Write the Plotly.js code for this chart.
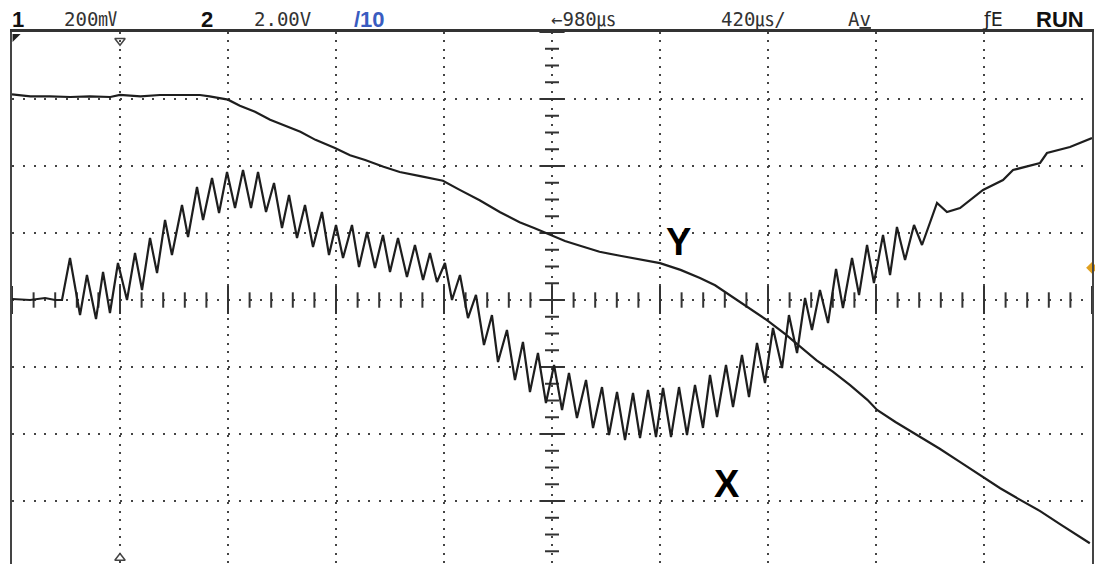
<!DOCTYPE html>
<html>
<head>
<meta charset="utf-8">
<script src="https://cdn.plot.ly/plotly-3.0.1.min.js"></script>
<style>html,body{margin:0;padding:0;background:#fff;}#chart{width:1095px;height:564px;}</style>
</head>
<body>
<div id="chart"></div>
<script>
// Time axis in screen divisions (420 µs/div), amplitude in vertical divisions
const yTraceT = [0.00,0.17,0.35,0.54,0.72,0.91,1.00,1.19,1.37,1.56,1.74,1.83,1.93,2.00,2.11,2.25,2.39,2.53,2.67,2.81,2.99,3.13,3.27,3.44,3.59,3.78,3.99,4.15,4.33,4.52,4.70,4.84,4.99,5.12,5.26,5.44,5.63,5.81,6.00,6.19,6.37,6.51,6.68,6.83,6.99,7.16,7.30,7.45,7.60,7.76,7.92,8.01,8.18,8.38,8.59,8.78,8.99,9.15,9.31,9.52,9.70,9.84,9.98];
const yTraceV = [3.07,3.04,3.04,3.03,3.04,3.03,3.06,3.04,3.06,3.06,3.06,3.04,3.01,2.99,2.90,2.81,2.69,2.60,2.51,2.39,2.27,2.16,2.09,1.99,1.91,1.85,1.78,1.64,1.49,1.31,1.16,1.07,0.97,0.88,0.81,0.72,0.66,0.61,0.55,0.45,0.33,0.22,0.04,-0.12,-0.30,-0.51,-0.70,-0.90,-1.07,-1.27,-1.49,-1.64,-1.82,-2.01,-2.22,-2.42,-2.64,-2.81,-2.96,-3.15,-3.34,-3.49,-3.63];

const xTraceT = [0,0.167,0.306,0.398,0.463,0.537,0.630,0.694,0.778,0.843,0.907,0.981,1.065,1.139,1.204,1.278,1.343,1.417,1.481,1.574,1.630,1.713,1.769,1.852,1.917,1.991,2.065,2.139,2.213,2.278,2.352,2.426,2.500,2.565,2.639,2.713,2.787,2.870,2.935,3.000,3.065,3.148,3.213,3.287,3.361,3.435,3.500,3.574,3.657,3.731,3.806,3.870,3.935,4.009,4.074,4.148,4.222,4.296,4.370,4.444,4.500,4.583,4.657,4.731,4.796,4.870,4.944,5.019,5.093,5.157,5.231,5.315,5.380,5.463,5.528,5.602,5.676,5.750,5.815,5.889,5.963,6.028,6.102,6.176,6.250,6.324,6.398,6.463,6.528,6.611,6.676,6.759,6.824,6.898,6.972,7.046,7.130,7.194,7.269,7.343,7.407,7.481,7.556,7.630,7.694,7.778,7.843,7.917,7.981,8.065,8.130,8.194,8.269,8.352,8.426,8.500,8.565,8.657,8.778,8.991,9.176,9.269,9.519,9.583,9.796,10.0];
const xTraceV = [0.015,0,0.03,0,0,0.627,-0.224,0.373,-0.284,0.418,-0.194,0.552,0,0.701,0.149,0.925,0.403,1.194,0.672,1.418,0.940,1.687,1.194,1.821,1.299,1.910,1.373,1.940,1.373,1.910,1.313,1.746,1.075,1.567,0.925,1.418,0.791,1.313,0.672,1.119,0.627,1.119,0.493,1.015,0.478,0.970,0.418,0.925,0.343,0.821,0.299,0.701,0.269,0.552,0,0.373,-0.269,0.075,-0.672,-0.224,-0.925,-0.448,-1.194,-0.627,-1.373,-0.791,-1.537,-0.970,-1.642,-1.090,-1.761,-1.194,-1.910,-1.299,-2.015,-1.373,-2.090,-1.388,-2.060,-1.343,-2.045,-1.313,-2.045,-1.299,-2.015,-1.269,-1.910,-1.119,-1.746,-0.970,-1.597,-0.821,-1.448,-0.642,-1.239,-0.418,-1.015,-0.224,-0.791,0.030,-0.448,0.149,-0.343,0.463,-0.119,0.627,0.075,0.821,0.254,0.970,0.373,1.090,0.597,1.119,0.821,1.164,1.448,1.313,1.373,1.642,1.791,1.940,2.045,2.194,2.284,2.418];

const headerTexts = ["<b>1</b>","200㎷","<b>2</b>","2.00V","<b>/10</b>","←980㎲","420㎲/","A<span style='text-decoration:underline'>v</span>","ƒE","<b>RUN</b>"];
const traceLabels = ["Y","X"];

// graticule decoration built from division spacing
const hMinor=[], hMajor=[], vMinor=[], vMajor=[];
for (let i=0;i<=50;i++){ const x=i/5; if(i%5===0) hMajor.push(x); else hMinor.push(x); }
for (let i=-16;i<=16;i++){ const y=i/4; if(i%4===0) vMajor.push(y); else vMinor.push(y); }

const ink = '#1e1e1e';
const traces = [
  {x:hMinor, y:hMinor.map(()=>0), mode:'markers', marker:{symbol:'line-ns', size:11, color:'#333', line:{width:2,color:'#333'}}, hoverinfo:'skip'},
  {x:hMajor, y:hMajor.map(()=>0), mode:'markers', marker:{symbol:'line-ns', size:20, color:'#333', line:{width:2,color:'#333'}}, hoverinfo:'skip'},
  {x:vMinor.map(()=>5), y:vMinor, mode:'markers', marker:{symbol:'line-ew', size:10, color:'#333', line:{width:2,color:'#333'}}, hoverinfo:'skip'},
  {x:vMajor.map(()=>5), y:vMajor, mode:'markers', marker:{symbol:'line-ew', size:18, color:'#333', line:{width:2,color:'#333'}}, hoverinfo:'skip'},
  {x:yTraceT, y:yTraceV, mode:'lines', line:{color:ink, width:2.2}, name:'Y'},
  {x:xTraceT, y:xTraceV, mode:'lines', line:{color:ink, width:2.2}, name:'X'},
  {x:[1], y:[3.87], mode:'markers', marker:{symbol:'triangle-down-open', size:9, color:'#444', line:{width:1.5,color:'#444'}}, hoverinfo:'skip', cliponaxis:false},
  {x:[1], y:[-3.85], mode:'markers', marker:{symbol:'triangle-up-open', size:9, color:'#444', line:{width:1.5,color:'#444'}}, hoverinfo:'skip', cliponaxis:false},
  {x:[0.03], y:[3.93], mode:'markers', marker:{symbol:'triangle-nw', size:9, color:'#222'}, hoverinfo:'skip', cliponaxis:false},
  {x:[10], y:[0.48], mode:'markers', marker:{symbol:'diamond', size:9, color:'#e0a020'}, hoverinfo:'skip', cliponaxis:false}
];

const hdrX = [10,62,199,252,352,549,719,846,980,1034];
const hdrFont = [
  {family:'Liberation Sans, Arial', size:22, color:'#111'},
  {family:'DejaVu Sans Mono, Noto Sans CJK JP', size:19, color:'#333'},
  {family:'Liberation Sans, Arial', size:22, color:'#111'},
  {family:'DejaVu Sans Mono', size:19, color:'#333'},
  {family:'Liberation Sans, Arial', size:22, color:'#3a5cc0'},
  {family:'DejaVu Sans Mono, Noto Sans CJK JP', size:19, color:'#333'},
  {family:'DejaVu Sans Mono, Noto Sans CJK JP', size:19, color:'#333'},
  {family:'DejaVu Sans Mono', size:19, color:'#333'},
  {family:'DejaVu Sans', size:19, color:'#222'},
  {family:'Liberation Sans, Arial', size:22, color:'#111'}
];
const annotations = headerTexts.map((t,i)=>({
  text:t, xref:'paper', yref:'paper', x:(hdrX[i]-12)/1080, y:1+(32-19)/532,
  xanchor:'left', yanchor:'middle', showarrow:false, font:hdrFont[i]
}));
annotations.push({text:'<b>'+traceLabels[0]+'</b>', xref:'paper', yref:'paper', x:(678-12)/1080, y:(564-242)/532, xanchor:'center', yanchor:'middle', showarrow:false, font:{family:'Liberation Sans, Arial', size:38, color:'#000'}});
annotations.push({text:'<b>'+traceLabels[1]+'</b>', xref:'paper', yref:'paper', x:(727-12)/1080, y:(564-484)/532, xanchor:'center', yanchor:'middle', showarrow:false, font:{family:'Liberation Sans, Arial', size:38, color:'#000'}});

const layout = {
  width:1095, height:564,
  margin:{l:12, r:3, t:32, b:0},
  paper_bgcolor:'#fff', plot_bgcolor:'#fff',
  showlegend:false,
  xaxis:{range:[0,10], dtick:1, showgrid:true, gridcolor:'#444', gridwidth:2, griddash:'2px,6.4px',
         zeroline:false, showticklabels:false, ticks:'', showline:true, mirror:true, linecolor:'#333', linewidth:3, fixedrange:true},
  yaxis:{range:[-3.94,4], dtick:1, showgrid:true, gridcolor:'#444', gridwidth:2, griddash:'2px,8.8px',
         zeroline:false, showticklabels:false, ticks:'', showline:true, mirror:true, linecolor:'#444', linewidth:2, fixedrange:true},
  annotations:annotations
};
Plotly.newPlot('chart', traces, layout, {displayModeBar:false, staticPlot:true});
</script>
</body>
</html>
